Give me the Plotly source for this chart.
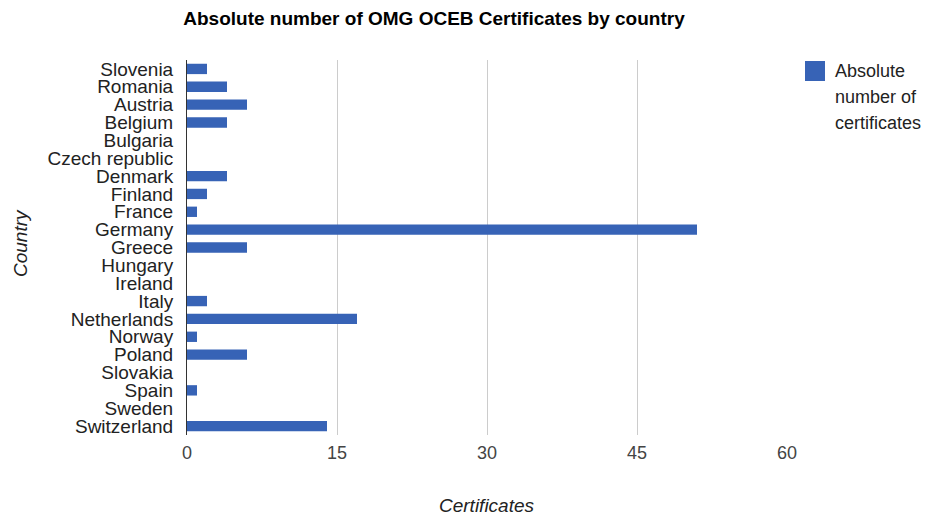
import plotly.graph_objects as go

countries = ["Slovenia", "Romania", "Austria", "Belgium", "Bulgaria", "Czech republic",
             "Denmark", "Finland", "France", "Germany", "Greece", "Hungary", "Ireland",
             "Italy", "Netherlands", "Norway", "Poland", "Slovakia", "Spain", "Sweden",
             "Switzerland"]
certificates = [2, 4, 6, 4, 0, 0, 4, 2, 1, 51, 6, 0, 0, 2, 17, 1, 6, 0, 1, 0, 14]
x_ticks = [0, 15, 30, 45, 60]
series_name_lines = ["Absolute", "number of", "certificates"]

FONT = "Liberation Sans, Arial, sans-serif"
BAR_COLOR = "#3763b6"

# the page body adds an 8px offset; figure is sized to fill the rest of the window
W, H = 921, 508
OFF = 8

fig = go.Figure()
fig.add_trace(go.Bar(
    y=countries, x=certificates, orientation="h", name=" ".join(series_name_lines),
    marker=dict(color=BAR_COLOR, line=dict(width=0)),
    showlegend=False,
))

# target plot area in window pixels: x 187..787, y 60..435
L, T = 187 - OFF, 60 - OFF
PW, PH = 600, 375

def py(win_y):
    return (435 - win_y) / PH

annotations = []
for i, line in enumerate(series_name_lines):
    annotations.append(dict(text=line, x=(834 - 187) / PW, xref="paper", xanchor="left",
                            y=py(71 + 26 * i), yref="paper", yanchor="middle",
                            showarrow=False, borderpad=0,
                            font=dict(size=18, color="#222222")))
annotations += [
    dict(text="<i>Certificates</i>", x=0.5, xref="paper", y=0, yref="paper",
         yanchor="middle", yshift=-70, showarrow=False,
         font=dict(size=19, color="#222222")),
    dict(text="<i>Country</i>", x=(20 - 187) / PW, xref="paper", xanchor="center",
         y=py(243), yref="paper", yanchor="middle", textangle=-90,
         showarrow=False, font=dict(size=19, color="#222222")),
]

fig.update_layout(
    width=W, height=H,
    margin=dict(l=L, r=W - L - PW, t=T, b=H - T - PH, autoexpand=False),
    plot_bgcolor="white", paper_bgcolor="white",
    font=dict(family=FONT, size=19, color="#222222"),
    bargap=0.42,
    title=dict(text="<b>Absolute number of OMG OCEB Certificates by country</b>",
               x=(434 - OFF) / W, xanchor="center", xref="container",
               y=1 - (18 - OFF) / H, yanchor="middle", yref="container",
               font=dict(family=FONT, size=19, color="#000000")),
    xaxis=dict(range=[0, 60], tickmode="array", tickvals=x_ticks, showgrid=True,
               gridcolor="#cccccc", gridwidth=1, zeroline=False, showline=False, ticks="",
               ticklabelstandoff=5, automargin=False,
               tickfont=dict(size=18, color="#444444")),
    yaxis=dict(autorange="reversed", tickmode="array", tickvals=countries,
               showgrid=False, showline=True, linecolor="#333333",
               linewidth=1, ticks="", ticklabelstandoff=9, automargin=False,
               tickfont=dict(size=19, color="#222222")),
    shapes=[
        dict(type="rect", xref="paper", yref="paper",
             x0=(805 - 187) / PW, x1=(825 - 187) / PW,
             y0=py(81), y1=py(61),
             fillcolor=BAR_COLOR, line=dict(width=0)),
    ],
    annotations=annotations,
)

fig.write_html("out.html")
